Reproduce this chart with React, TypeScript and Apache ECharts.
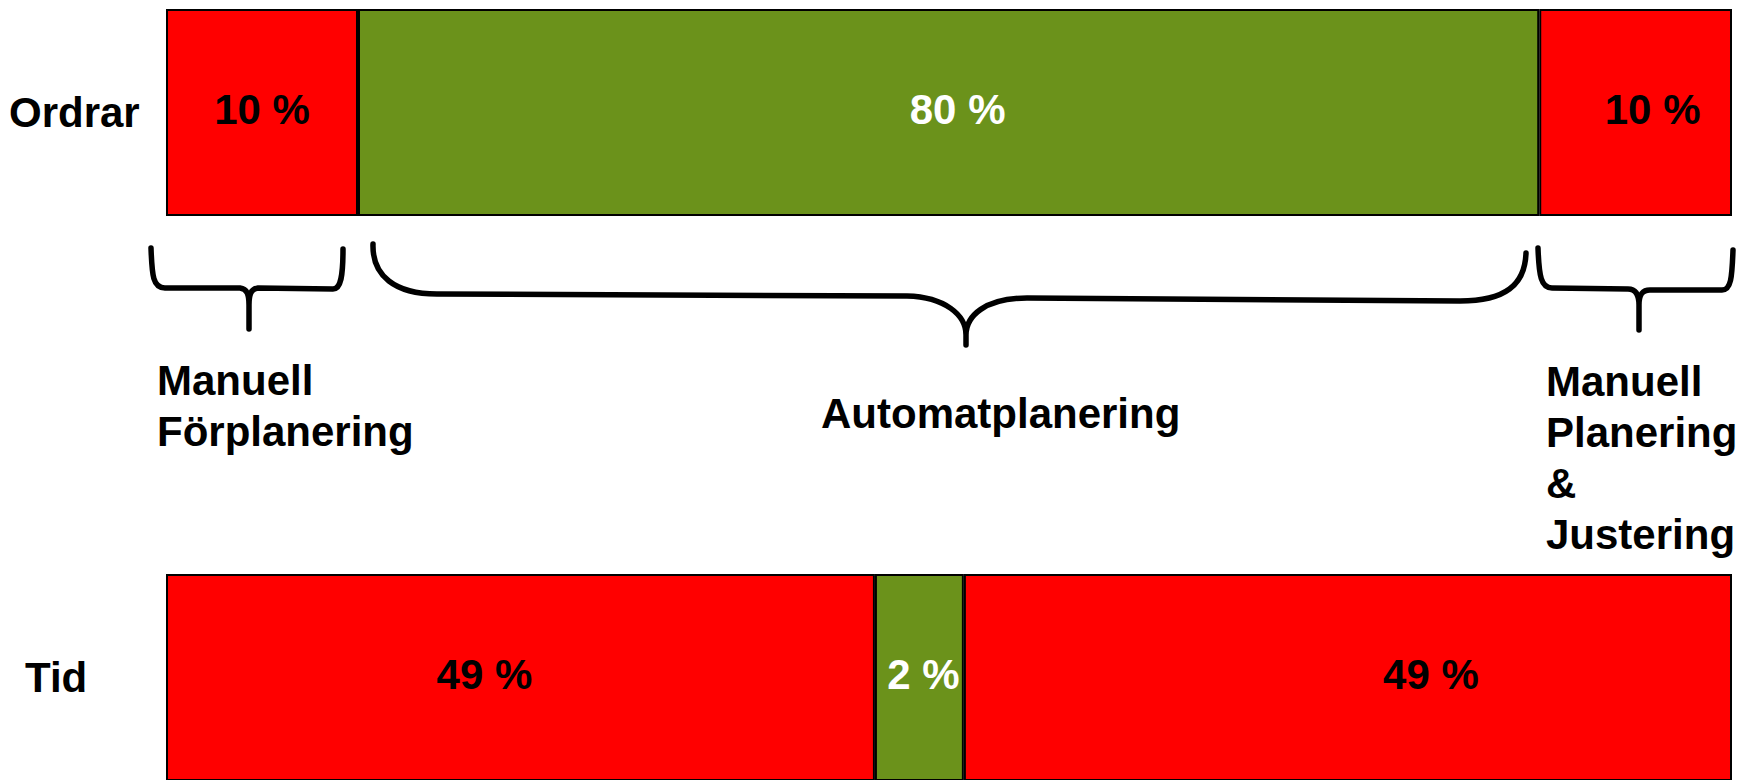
import React, { useEffect, useRef } from 'react';
import * as echarts from 'echarts';

// ---- data ----
const categories = ['Ordrar', 'Tid'];
// drawn share of each bar (percent of bar length) per segment
const firstSegment = [12.26, 45.27];
const middleSegment = [75.43, 5.68];
const lastSegment = [12.31, 49.05];
// printed labels
const firstLabels = ['10 %', '49 %'];
const middleLabels = ['80 %', '2 %'];
const lastLabels = ['10 %', '49 %'];
const phaseLabels = ['Manuell\nFörplanering', 'Automatplanering', 'Manuell\nPlanering\n&\nJustering'];

const RED = '#FF0000';
const GREEN = '#6B921B';
const FONT = '"Liberation Sans", Arial, Helvetica, sans-serif';

// brace outlines (annotation shapes)
const braceLeft =
  'M151 248 C152 276 153 288 165 288 L240 288 C247 289 249 294 249 305 L249 329 M249 305 C249 294 251 289 258 288 L333 289 C341 289 343 276 343 249';
const braceMid =
  'M373 244 C372 276 395 294 437 294 L907 296 C945 297 966 315 966 335 L966 345 M966 335 C966 316 985 298 1027 298 L1460 301 C1505 301 1525 285 1526 253';
const braceRight =
  'M1538 248 C1539 276 1541 288 1552 288 L1628 289 C1636 289 1639 295 1639 305 L1639 330 M1639 305 C1639 295 1642 290 1650 290 L1722 290 C1731 290 1732 278 1733 250';

let registered = false;
function registerBraces() {
  if (registered) return;
  registered = true;
  echarts.graphic.registerShape('braceLeft', echarts.graphic.extendPath(braceLeft, {}));
  echarts.graphic.registerShape('braceMid', echarts.graphic.extendPath(braceMid, {}));
  echarts.graphic.registerShape('braceRight', echarts.graphic.extendPath(braceRight, {}));
}

export default function App() {
  const ref = useRef<HTMLDivElement>(null);

  useEffect(() => {
    document.body.style.margin = '0';
    registerBraces();
    const chart = echarts.init(ref.current as HTMLDivElement, null, { renderer: 'svg' });

    const labelShift = [
      [0, 9, 17],
      [-36, 4, 83],
    ];

    const mkSeries = (name: string, values: number[], labels: string[], color: string, textColor: string, idx: number) => ({
      name,
      type: 'bar',
      stack: 'total',
      barWidth: 207,
      data: values.map((v, i) => ({
        value: v,
        label: { offset: [labelShift[i][idx], -3], formatter: labels[i] },
      })),
      itemStyle: { color, borderColor: '#000', borderWidth: 2 },
      label: {
        show: true,
        position: 'inside',
        color: textColor,
        fontSize: 42,
        fontWeight: 'bold',
        fontFamily: FONT,
      },
      emphasis: { disabled: true },
    });

    const braceStyle = { fill: 'none', stroke: '#000', lineWidth: 5.5, lineCap: 'round', lineJoin: 'round' };
    const textStyle = (text: string, x: number, y: number) => ({
      type: 'text',
      x,
      y,
      style: {
        text,
        fill: '#000',
        fontSize: 42,
        fontWeight: 'bold',
        fontFamily: FONT,
        align: 'left',
        verticalAlign: 'middle',
        lineHeight: 51,
      },
    });

    chart.setOption({
      animation: false,
      grid: {
        left: 166,
        width: 1566,
        top: -170,
        height: 1130,
        containLabel: false,
        outerBoundsMode: 'none',
      },
      xAxis: {
        type: 'value',
        min: 0,
        max: 100,
        show: false,
      },
      yAxis: {
        type: 'category',
        inverse: true,
        data: categories,
        axisLine: { show: false },
        axisTick: { show: false },
        axisLabel: {
          align: 'left',
          margin: 157,
          formatter: (v: string) => (v === 'Tid' ? '{t|' + v + '}' : '{o|' + v + '}'),
          rich: {
            o: { fontSize: 42, fontWeight: 'bold', fontFamily: FONT, color: '#000' },
            t: { fontSize: 42, fontWeight: 'bold', fontFamily: FONT, color: '#000', padding: [0, 0, 0, 16] },
          },
        },
      },
      series: [
        mkSeries('first', firstSegment, firstLabels, RED, '#000', 0),
        mkSeries('middle', middleSegment, middleLabels, GREEN, '#fff', 1),
        mkSeries('last', lastSegment, lastLabels, RED, '#000', 2),
      ],
      graphic: [
        { type: 'braceLeft', x: 0, y: 0, style: braceStyle, silent: true },
        { type: 'braceMid', x: 0, y: 0, style: braceStyle, silent: true },
        { type: 'braceRight', x: 0, y: 0, style: braceStyle, silent: true },
        textStyle(phaseLabels[0], 157, 406),
        textStyle(phaseLabels[1], 821, 413),
        textStyle(phaseLabels[2], 1546, 458),
      ],
    });

    return () => chart.dispose();
  }, []);

  return <div ref={ref} style={{ width: 1757, height: 780 }} />;
}
